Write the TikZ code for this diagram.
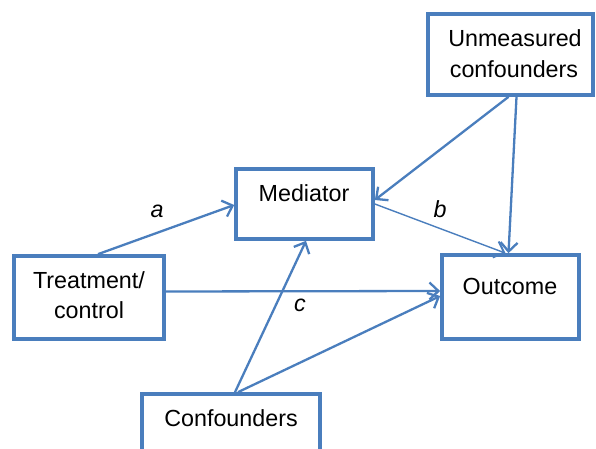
\documentclass[tikz,border=0pt]{standalone}
\usepackage{fontspec}
\setmainfont{Liberation Sans}
\usetikzlibrary{arrows.meta,calc}
\definecolor{ofblue}{RGB}{74,126,189}
\tikzset{
  box/.style={draw=ofblue, line width=3.7pt, rectangle, inner sep=0pt, fill=white},
  txt/.style={anchor=base, inner sep=0pt, font=\fontsize{23.3}{30.5}\selectfont},
  lab/.style={inner sep=0pt, font=\fontsize{23.3}{30.5}\selectfont\itshape},
  arr/.style={draw=ofblue, line width=2.3pt, -{Straight Barb[length=9pt,width=17pt]}},
  thinarr/.style={draw=ofblue, line width=1.4pt, -{Straight Barb[length=9pt,width=17pt,line width=2pt]}}
}
\begin{document}
\begin{tikzpicture}[x=1pt,y=-1pt]
\useasboundingbox (0,0) rectangle (596,449);
\clip (0,0) rectangle (596,449);
% boxes
\node[box, minimum width=150, minimum height=83] (treat) at (89,297.5) {};
\node[box, minimum width=137, minimum height=70] (med) at (304.5,204) {};
\node[box, minimum width=165, minimum height=81] (unm) at (510.5,54.5) {};
\node[box, minimum width=137, minimum height=84] (out) at (510.5,297) {};
\node[box, minimum width=178, minimum height=86] (conf) at (231,437) {};
% texts
\node[txt] (treatA) at (89,288) {Treatment/};
\node[txt] (treatB) at (89,318) {control};
\node[txt] (medt) at (304,201) {Mediator};
\node[txt] (unmA) at (515,47) {Unmeasured};
\node[txt] (unmB) at (514,78) {confounders};
\node[txt] (outt) at (510,294) {Outcome};
\node[txt] (conft) at (231,426) {Confounders};
% arrows
\draw[arr] ($(treat.north)+(9,0)$) -- ($(med.west)+(0,1)$);
\draw[arr] ($(unm.south)+(-2,0)$) -- ($(med.east)+(0,-4)$);
\draw[arr] ($(unm.south)+(6,0)$) -- ($(out.north)+(-2,0)$);
\draw[thinarr] (med.east) -- ($(out.north)+(-5,0)$);
\draw[arr] ($(treat.east)+(0,-6)$) -- ($(out.west)+(0,-6)$);
\draw[arr] ($(conf.north)+(4,0)$) -- ($(med.south)+(1.5,0)$);
\draw[arr] ($(conf.north)+(7,0)$) -- ($(out.west)+(0,-1)$);
% labels
\node[lab] (la) at (157,211) {a};
\node[lab] (lb) at (440,209) {b};
\node[lab] (lc) at (300,305) {c};
\end{tikzpicture}
\end{document}
